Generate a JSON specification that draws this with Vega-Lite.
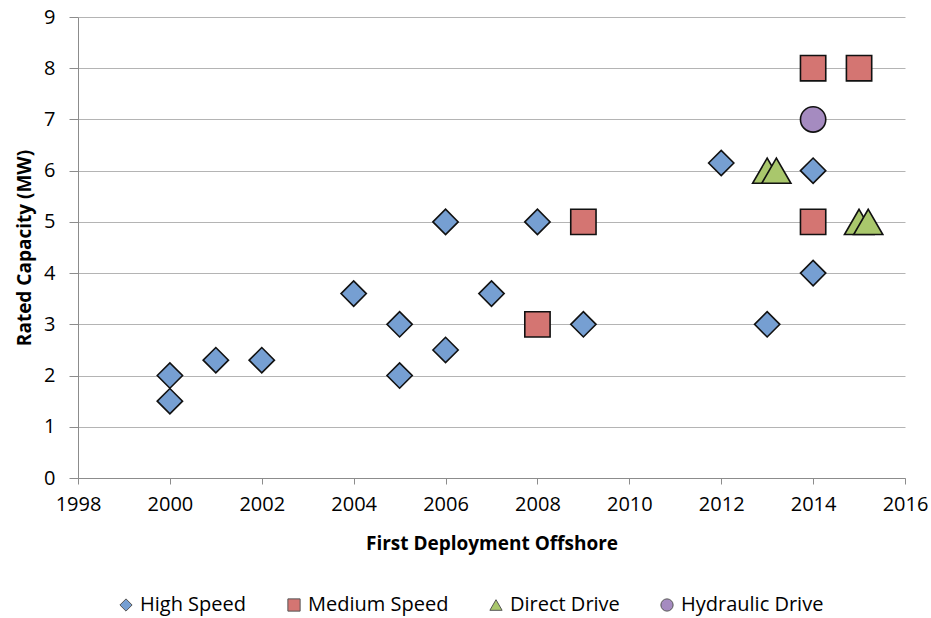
{
  "$schema": "https://vega.github.io/schema/vega-lite/v6.json",
  "width": 827,
  "height": 461,
  "autosize": {"type": "none"},
  "padding": {"left": 78, "top": 17, "right": 26, "bottom": 140},
  "background": "white",
  "config": {
    "font": "Open Sans",
    "view": {"stroke": null}
  },
  "data": {
    "values": [
      {"year": 2000, "mw": 2, "type": "High Speed"},
      {"year": 2000, "mw": 1.5, "type": "High Speed"},
      {"year": 2001, "mw": 2.3, "type": "High Speed"},
      {"year": 2002, "mw": 2.3, "type": "High Speed"},
      {"year": 2004, "mw": 3.6, "type": "High Speed"},
      {"year": 2005, "mw": 3, "type": "High Speed"},
      {"year": 2005, "mw": 2, "type": "High Speed"},
      {"year": 2006, "mw": 5, "type": "High Speed"},
      {"year": 2006, "mw": 2.5, "type": "High Speed"},
      {"year": 2007, "mw": 3.6, "type": "High Speed"},
      {"year": 2008, "mw": 5, "type": "High Speed"},
      {"year": 2009, "mw": 3, "type": "High Speed"},
      {"year": 2012, "mw": 6.15, "type": "High Speed"},
      {"year": 2013, "mw": 3, "type": "High Speed"},
      {"year": 2014, "mw": 6, "type": "High Speed"},
      {"year": 2014, "mw": 4, "type": "High Speed"},
      {"year": 2008, "mw": 3, "type": "Medium Speed"},
      {"year": 2009, "mw": 5, "type": "Medium Speed"},
      {"year": 2014, "mw": 8, "type": "Medium Speed"},
      {"year": 2015, "mw": 8, "type": "Medium Speed"},
      {"year": 2014, "mw": 5, "type": "Medium Speed"},
      {"year": 2013, "mw": 6, "type": "Direct Drive"},
      {"year": 2013.2, "mw": 6, "type": "Direct Drive"},
      {"year": 2015, "mw": 5, "type": "Direct Drive"},
      {"year": 2015.2, "mw": 5, "type": "Direct Drive"},
      {"year": 2014, "mw": 7, "type": "Hydraulic Drive"}
    ]
  },
  "mark": {"type": "point", "filled": true, "opacity": 1, "stroke": "#111111", "strokeWidth": 1.6},
  "encoding": {
    "x": {
      "field": "year", "type": "quantitative",
      "scale": {"domain": [1998, 2016], "nice": false, "zero": false},
      "axis": {
        "title": "First Deployment Offshore",
        "values": [1998, 2000, 2002, 2004, 2006, 2008, 2010, 2012, 2014, 2016],
        "format": "d",
        "grid": false,
        "domainColor": "#8c8c8c",
        "tickColor": "#8c8c8c",
        "tickSize": 6,
        "labelFontSize": 20,
        "labelColor": "#000000",
        "labelPadding": 10,
        "titleFontSize": 19,
        "titleFontWeight": "bold",
        "titleColor": "#000000",
        "titlePadding": 20,
        "labelFlush": false
      }
    },
    "y": {
      "field": "mw", "type": "quantitative",
      "scale": {"domain": [0, 9], "nice": false},
      "axis": {
        "title": "Rated Capacity (MW)",
        "values": [0, 1, 2, 3, 4, 5, 6, 7, 8, 9],
        "grid": true,
        "gridColor": "#b4b4b4",
        "gridWidth": 1,
        "domainColor": "#8c8c8c",
        "tickColor": "#8c8c8c",
        "tickSize": 9,
        "labelFontSize": 20,
        "labelColor": "#000000",
        "labelPadding": 14,
        "titleFontSize": 19,
        "titleFontWeight": "bold",
        "titleColor": "#000000",
        "titlePadding": 9
      }
    },
    "shape": {
      "field": "type", "type": "nominal",
      "scale": {
        "domain": ["High Speed", "Medium Speed", "Direct Drive", "Hydraulic Drive"],
        "range": ["diamond", "square", "triangle-up", "circle"]
      },
      "legend": {
        "title": null,
        "orient": "none",
        "legendX": 38,
        "legendY": 578,
        "direction": "horizontal",
        "labelFontSize": 20,
        "labelColor": "#000000",
        "symbolSize": 150,
        "symbolStrokeColor": "#555555",
        "symbolStrokeWidth": 1,
        "columnPadding": 37,
        "labelOffset": 4
      }
    },
    "color": {
      "field": "type", "type": "nominal",
      "scale": {
        "domain": ["High Speed", "Medium Speed", "Direct Drive", "Hydraulic Drive"],
        "range": ["#769fd2", "#d47572", "#a9c76c", "#a58bc0"]
      },
      "legend": {
        "title": null,
        "orient": "none",
        "legendX": 38,
        "legendY": 578,
        "direction": "horizontal",
        "labelFontSize": 20,
        "labelColor": "#000000",
        "symbolSize": 150,
        "symbolStrokeColor": "#555555",
        "symbolStrokeWidth": 1,
        "columnPadding": 37,
        "labelOffset": 4
      }
    },
    "size": {
      "condition": {"test": "datum.type === 'Direct Drive'", "value": 850},
      "value": 640
    }
  }
}
